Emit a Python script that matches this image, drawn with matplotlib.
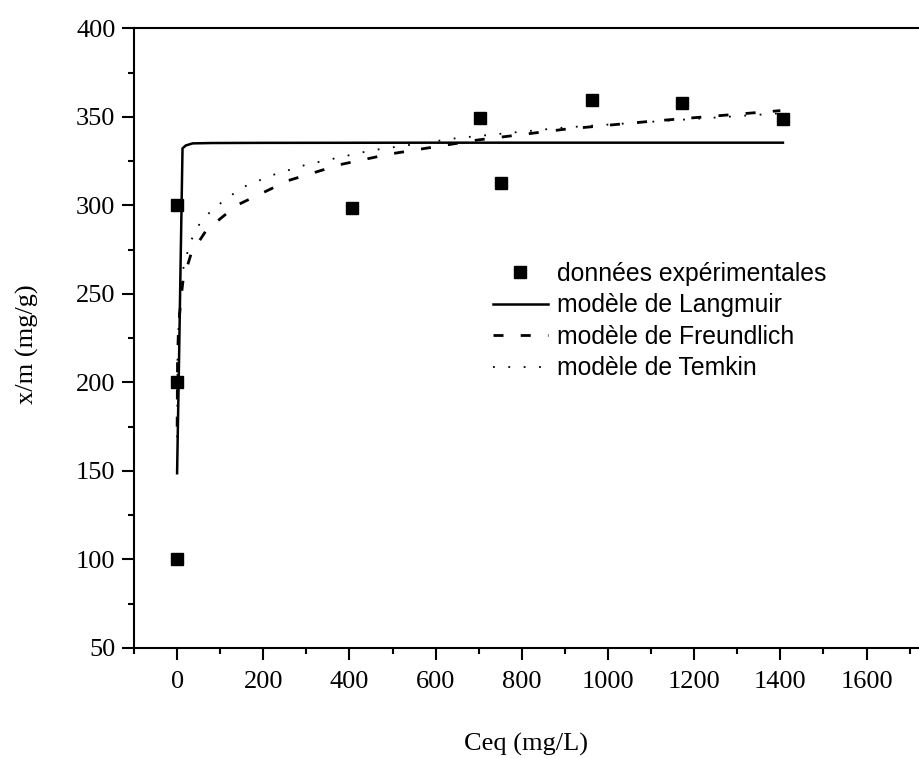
import matplotlib
matplotlib.use("Agg")
import matplotlib.pyplot as plt
from matplotlib.ticker import MultipleLocator

# experimental data
ceq_exp = [0, 0, 0, 407, 702, 751, 962, 1171, 1406]
q_exp = [100, 200, 300, 298.3, 349.3, 312.6, 359.5, 357.6, 349.0]

# model curves
ceq_lang = [0, 4, 8, 12.6, 20, 36, 80, 200, 600, 1000, 1406]
q_lang = [148.7, 205, 265, 332.2, 333.8, 335.0, 335.2, 335.3, 335.4, 335.4, 335.4]

ceq_freu = [0.1, 1, 3, 8, 14, 33, 68, 138, 258, 378, 494, 700, 900, 1100, 1400]
q_freu = [175, 212, 229, 245, 258, 273, 286, 300, 314, 323, 329, 337, 343, 347.5, 353.5]

ceq_temk = [0.1, 1, 5, 15, 30, 53, 83, 150, 220, 300, 450, 650, 900, 1150, 1400]
q_temk = [169, 213, 244, 265, 279, 290, 298, 310, 317, 323, 331, 338, 344, 348, 352]

x_ticks = [0, 200, 400, 600, 800, 1000, 1200, 1400, 1600]
y_ticks = [50, 100, 150, 200, 250, 300, 350, 400]

serif = ["Liberation Serif", "DejaVu Serif"]
sans = ["Liberation Sans", "DejaVu Sans"]

fig = plt.figure(figsize=(9.2, 7.58), dpi=100)
ax = fig.add_axes([134 / 920, 110 / 758, 818.7 / 920, 619.7 / 758])

ax.plot(ceq_exp, q_exp, linestyle="none", marker="s", markersize=9,
        color="black", label="données expérimentales", zorder=3)
ax.plot(ceq_lang, q_lang, color="black", linewidth=1.8, label="modèle de Langmuir")
ax.plot(ceq_freu, q_freu, color="black", linewidth=2.0, linestyle=(0, (3.6, 6.2)),
        label="modèle de Freundlich")
ax.plot(ceq_temk, q_temk, color="black", linewidth=1.3, linestyle=(0, (1, 7.5)),
        label="modèle de Temkin")

ax.set_xlim(-100, 1800)
ax.set_ylim(50, 400)
ax.set_xticks(x_ticks)
ax.set_yticks(y_ticks)
ax.xaxis.set_minor_locator(MultipleLocator(100))
ax.yaxis.set_minor_locator(MultipleLocator(25))

for s in ax.spines.values():
    s.set_linewidth(1.5)
ax.tick_params(which="both", direction="out", width=1.5, top=False, right=False)
ax.tick_params(which="major", length=8.4)
ax.tick_params(which="minor", length=4.3)
ax.tick_params(axis="x", which="major", pad=8)
ax.tick_params(axis="y", which="major", pad=5)
for lab in ax.get_xticklabels() + ax.get_yticklabels():
    lab.set_fontfamily(serif)
    lab.set_fontsize(19)

ax.set_xlabel("Ceq (mg/L)", fontfamily=serif, fontsize=19)
ax.set_ylabel("x/m (mg/g)", fontfamily=serif, fontsize=19)
ax.xaxis.set_label_coords((525.8 - 134) / 818.7, (648 - 733) / 619.7)
ax.yaxis.set_label_coords((39 - 134) / 818.7, (648 - 344) / 619.7)

leg = ax.legend(loc="upper left", bbox_to_anchor=(0.438, 0.623), frameon=False,
                prop={"family": sans, "size": 17.8}, handlelength=2.25,
                handletextpad=0.35, labelspacing=0.3, borderpad=0,
                borderaxespad=0, markerscale=1.0)

fig.savefig("out.png", dpi=100, facecolor="white")
